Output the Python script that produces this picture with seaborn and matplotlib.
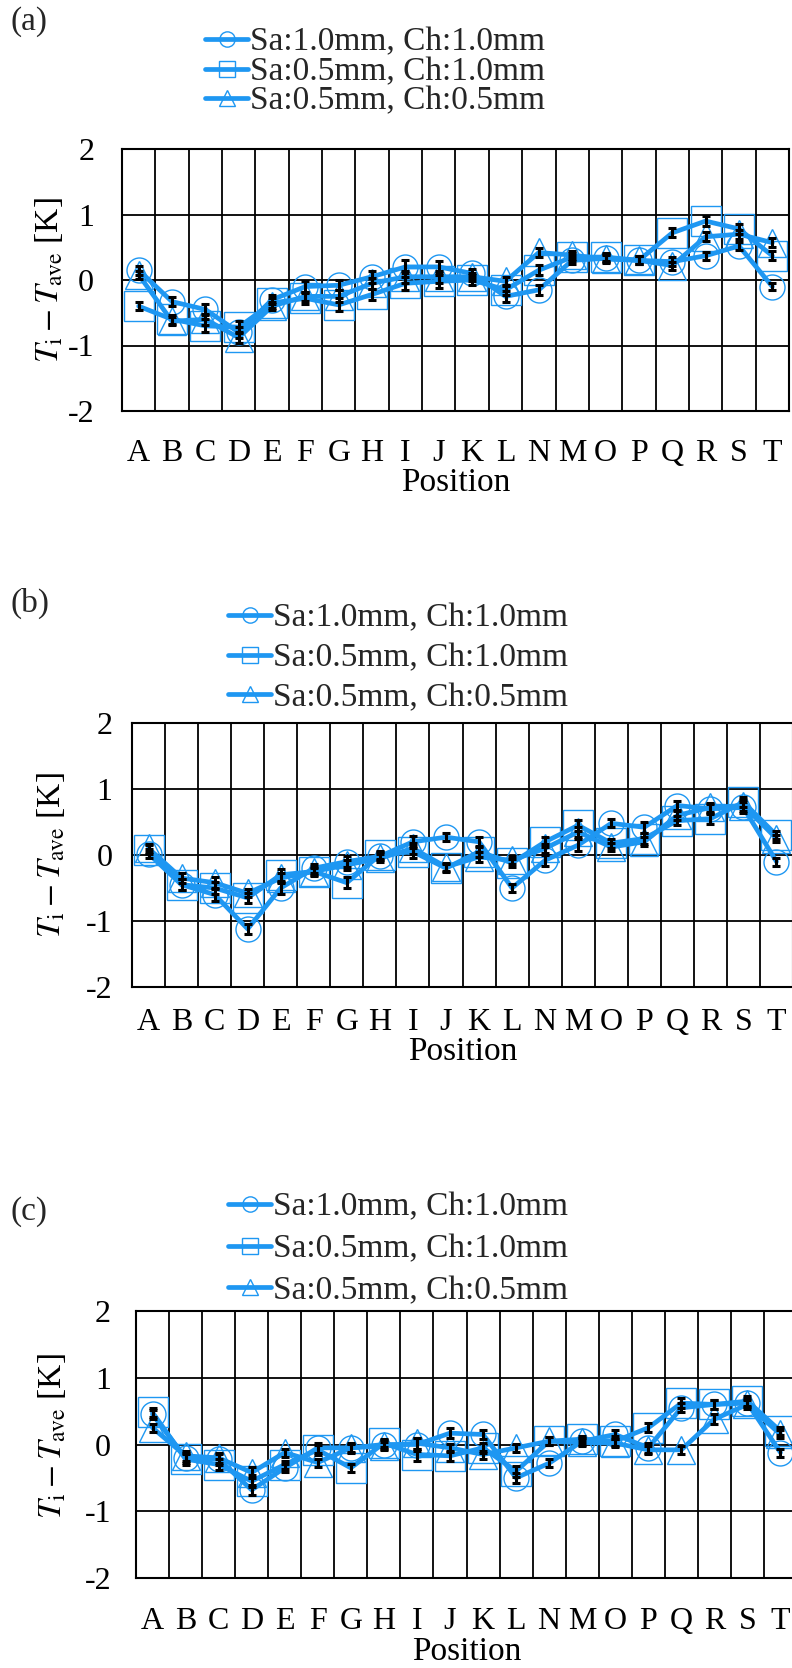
import numpy as np
import pandas as pd
import matplotlib
matplotlib.use("Agg")
import matplotlib.pyplot as plt
from matplotlib.lines import Line2D
import seaborn as sns

# ---------------------------------------------------------------- data
positions = ["A", "B", "C", "D", "E", "F", "G", "H", "I", "J",
             "K", "L", "N", "M", "O", "P", "Q", "R", "S", "T"]
series_labels = ["Sa:1.0mm, Ch:1.0mm", "Sa:0.5mm, Ch:1.0mm", "Sa:0.5mm, Ch:0.5mm"]
y_ticks = [-2, -1, 0, 1, 2]
y_tick_labels = ["-2", "-1", "0", "1", "2"]

# (a)
a_sa10_ch10 = [0.15, -0.33, -0.45, -0.80, -0.30, -0.10, -0.08, 0.05, 0.20, 0.20,
               0.10, -0.25, -0.15, 0.30, 0.33, 0.30, 0.28, 0.37, 0.52, -0.10]
a_sa05_ch10 = [-0.40, -0.60, -0.70, -0.72, -0.35, -0.28, -0.38, -0.22, -0.05, -0.02,
               0.00, -0.15, 0.15, 0.35, 0.35, 0.30, 0.72, 0.90, 0.78, 0.37]
a_sa05_ch05 = [0.08, -0.63, -0.60, -0.88, -0.40, -0.25, -0.25, -0.05, 0.05, 0.05,
               0.05, -0.02, 0.42, 0.38, 0.32, 0.30, 0.22, 0.66, 0.70, 0.57]
a_err_sa10_ch10 = [0.07, 0.07, 0.08, 0.09, 0.07, 0.08, 0.08, 0.09, 0.10, 0.09,
                   0.07, 0.08, 0.08, 0.06, 0.06, 0.06, 0.07, 0.06, 0.06, 0.06]
a_err_sa05_ch10 = [0.06, 0.07, 0.10, 0.09, 0.07, 0.08, 0.10, 0.09, 0.10, 0.10,
                   0.07, 0.08, 0.08, 0.06, 0.06, 0.06, 0.07, 0.07, 0.08, 0.07]
a_err_sa05_ch05 = [0.06, 0.06, 0.08, 0.08, 0.06, 0.07, 0.09, 0.08, 0.09, 0.09,
                   0.06, 0.07, 0.07, 0.06, 0.06, 0.06, 0.06, 0.07, 0.07, 0.07]

# (b)
b_sa10_ch10 = [0.02, -0.45, -0.60, -1.12, -0.50, -0.20, -0.10, -0.02, 0.20, 0.27,
               0.20, -0.50, -0.08, 0.15, 0.48, 0.42, 0.75, 0.70, 0.72, -0.10]
b_sa05_ch10 = [0.08, -0.45, -0.50, -0.65, -0.30, -0.25, -0.42, 0.00, 0.05, -0.20,
               0.05, -0.12, 0.20, 0.45, 0.18, 0.25, 0.52, 0.55, 0.80, 0.30]
b_sa05_ch05 = [0.10, -0.35, -0.42, -0.58, -0.35, -0.25, -0.15, -0.05, 0.10, -0.18,
               -0.03, -0.08, 0.10, 0.35, 0.12, 0.20, 0.60, 0.72, 0.75, 0.25]
b_err_sa10_ch10 = [0.07, 0.08, 0.09, 0.07, 0.09, 0.07, 0.08, 0.06, 0.09, 0.06,
                   0.08, 0.06, 0.08, 0.09, 0.06, 0.08, 0.07, 0.08, 0.08, 0.06]
b_err_sa05_ch10 = [0.07, 0.08, 0.09, 0.07, 0.09, 0.07, 0.08, 0.06, 0.09, 0.06,
                   0.08, 0.06, 0.08, 0.08, 0.07, 0.08, 0.07, 0.08, 0.08, 0.06]
b_err_sa05_ch05 = [0.06, 0.07, 0.08, 0.06, 0.08, 0.06, 0.07, 0.06, 0.08, 0.06,
                   0.07, 0.06, 0.07, 0.08, 0.06, 0.07, 0.07, 0.07, 0.08, 0.06]

# (c)
c_sa10_ch10 = [0.45, -0.20, -0.22, -0.68, -0.35, -0.05, -0.05, 0.00, 0.00, 0.17,
               0.15, -0.50, -0.28, 0.05, 0.15, -0.05, 0.55, 0.60, 0.62, -0.12]
c_sa05_ch10 = [0.48, -0.22, -0.30, -0.55, -0.30, -0.08, -0.35, 0.02, -0.15, -0.17,
               -0.05, -0.40, 0.05, 0.08, 0.05, 0.25, 0.62, 0.60, 0.65, 0.20]
c_sa05_ch05 = [0.25, -0.17, -0.20, -0.42, -0.12, -0.27, -0.05, -0.02, 0.02, -0.05,
               -0.15, -0.05, 0.05, 0.03, 0.02, -0.08, -0.08, 0.38, 0.60, 0.15]
c_err_sa10_ch10 = [0.07, 0.08, 0.08, 0.08, 0.06, 0.07, 0.07, 0.06, 0.09, 0.07,
                   0.07, 0.07, 0.06, 0.05, 0.07, 0.07, 0.07, 0.07, 0.06, 0.06]
c_err_sa05_ch10 = [0.07, 0.08, 0.08, 0.09, 0.06, 0.07, 0.06, 0.06, 0.09, 0.07,
                   0.07, 0.08, 0.06, 0.05, 0.07, 0.07, 0.07, 0.07, 0.07, 0.06]
c_err_sa05_ch05 = [0.06, 0.07, 0.07, 0.08, 0.06, 0.06, 0.06, 0.06, 0.08, 0.06,
                   0.06, 0.06, 0.06, 0.05, 0.06, 0.06, 0.06, 0.07, 0.07, 0.06]

panels = [
    ("(a)", [a_sa10_ch10, a_sa05_ch10, a_sa05_ch05],
     [a_err_sa10_ch10, a_err_sa05_ch10, a_err_sa05_ch05]),
    ("(b)", [b_sa10_ch10, b_sa05_ch10, b_sa05_ch05],
     [b_err_sa10_ch10, b_err_sa05_ch10, b_err_sa05_ch05]),
    ("(c)", [c_sa10_ch10, c_sa05_ch10, c_sa05_ch05],
     [c_err_sa10_ch10, c_err_sa05_ch10, c_err_sa05_ch05]),
]

# ---------------------------------------------------------------- style
sns.set_theme(style="white")
plt.rcParams["font.family"] = ["Liberation Serif", "DejaVu Serif"]
plt.rcParams["mathtext.fontset"] = "stix"

BLUE = "#1E97F2"
MARKERS = ["o", "s", "^"]
MARKER_SIZES = [18, 21, 20]
TICK_FS = 23
LEG_FS = 24
LAB_FS = 24

W, H = 792, 1668
fig = plt.figure(figsize=(W / 100, H / 100), dpi=100)


def frame(left, right, top, bottom):
    return [left / W, 1 - bottom / H, (right - left) / W, (bottom - top) / H]


# per panel layout (pixels): axes box, tag, legend, label offsets
layout = [
    dict(box=(122, 789, 149, 411), tag_y=22, leg_x=205, leg_y=72, leg_sp=-0.03,
         xpad=20, ypad=20, xlabelpad=0, ylab=(-0.085, 0.5)),
    dict(box=(132, 793, 723, 987), tag_y=603, leg_x=228, leg_y=658, leg_sp=0.28,
         xpad=15, ypad=14, xlabelpad=0, ylab=(-0.098, 0.5)),
    dict(box=(136, 797, 1311, 1578), tag_y=1212, leg_x=228, leg_y=1249, leg_sp=0.34,
         xpad=21, ypad=18, xlabelpad=0, ylab=(-0.103, 0.53)),
]

for (tag, series_vals, series_errs), lay in zip(panels, layout):
    ax = fig.add_axes(frame(*lay["box"]))
    x = np.arange(len(positions))

    df = pd.DataFrame({
        "pos": np.tile(x, len(series_labels)),
        "dT": np.concatenate(series_vals),
        "series": np.repeat(series_labels, len(positions)),
    })
    sns.lineplot(data=df, x="pos", y="dT", hue="series", style="series",
                 hue_order=series_labels, style_order=series_labels,
                 palette={s: BLUE for s in series_labels},
                 markers=dict(zip(series_labels, MARKERS)), dashes=False,
                 linewidth=3.4, markerfacecolor="none", markeredgecolor=BLUE,
                 markeredgewidth=1.0, sort=False, legend=False, ax=ax, zorder=2)
    for line, ms in zip(ax.lines, MARKER_SIZES):
        line.set_markersize(ms)
        line.set_markerfacecolor("none")
        line.set_markeredgecolor(BLUE)

    for vals, errs in zip(series_vals, series_errs):
        ax.errorbar(x, vals, yerr=errs, fmt="none", ecolor="black",
                    elinewidth=2.2, capsize=3.2, capthick=2.2, zorder=4)

    ax.set_xlim(-0.5, len(positions) - 0.5)
    ax.set_ylim(-2, 2)
    ax.set_xticks(x)
    ax.set_xticklabels(positions)
    ax.set_xticks(np.arange(-0.5, len(positions), 1), minor=True)
    ax.set_yticks(y_ticks)
    ax.set_yticklabels(y_tick_labels)
    ax.set_axisbelow(True)
    ax.grid(False)
    ax.grid(which="minor", axis="x", color="black", linewidth=1.3)
    ax.grid(which="major", axis="y", color="black", linewidth=1.3)
    ax.tick_params(which="both", length=0, labelsize=TICK_FS, colors="black")
    ax.tick_params(axis="x", pad=lay["xpad"])
    ax.tick_params(axis="y", pad=lay["ypad"])
    for sp in ax.spines.values():
        sp.set_color("black")
        sp.set_linewidth(1.5)

    ax.set_xlabel("Position", fontsize=LAB_FS, color="black", labelpad=lay["xlabelpad"])
    ax.set_ylabel(r"$T_{\mathrm{i}}-T_{\mathrm{ave}}$ [K]", fontsize=LAB_FS, color="black")
    ax.yaxis.set_label_coords(*lay["ylab"])

    fig.text(11 / W, 1 - lay["tag_y"] / H, tag, fontsize=LAB_FS, va="center", ha="left")

    handles = [Line2D([], [], color=BLUE, lw=3.4, marker=m, ms=11,
                      markerfacecolor="none", markeredgecolor=BLUE, markeredgewidth=1.0)
               for m in MARKERS]
    fig.legend(handles, series_labels, loc="center left",
               bbox_to_anchor=(lay["leg_x"] / W, 1 - lay["leg_y"] / H),
               frameon=False, fontsize=LEG_FS, handlelength=1.3, handletextpad=0.05,
               labelspacing=lay["leg_sp"], borderpad=0, borderaxespad=0)

fig.savefig("out.png", dpi=100, facecolor="white")
